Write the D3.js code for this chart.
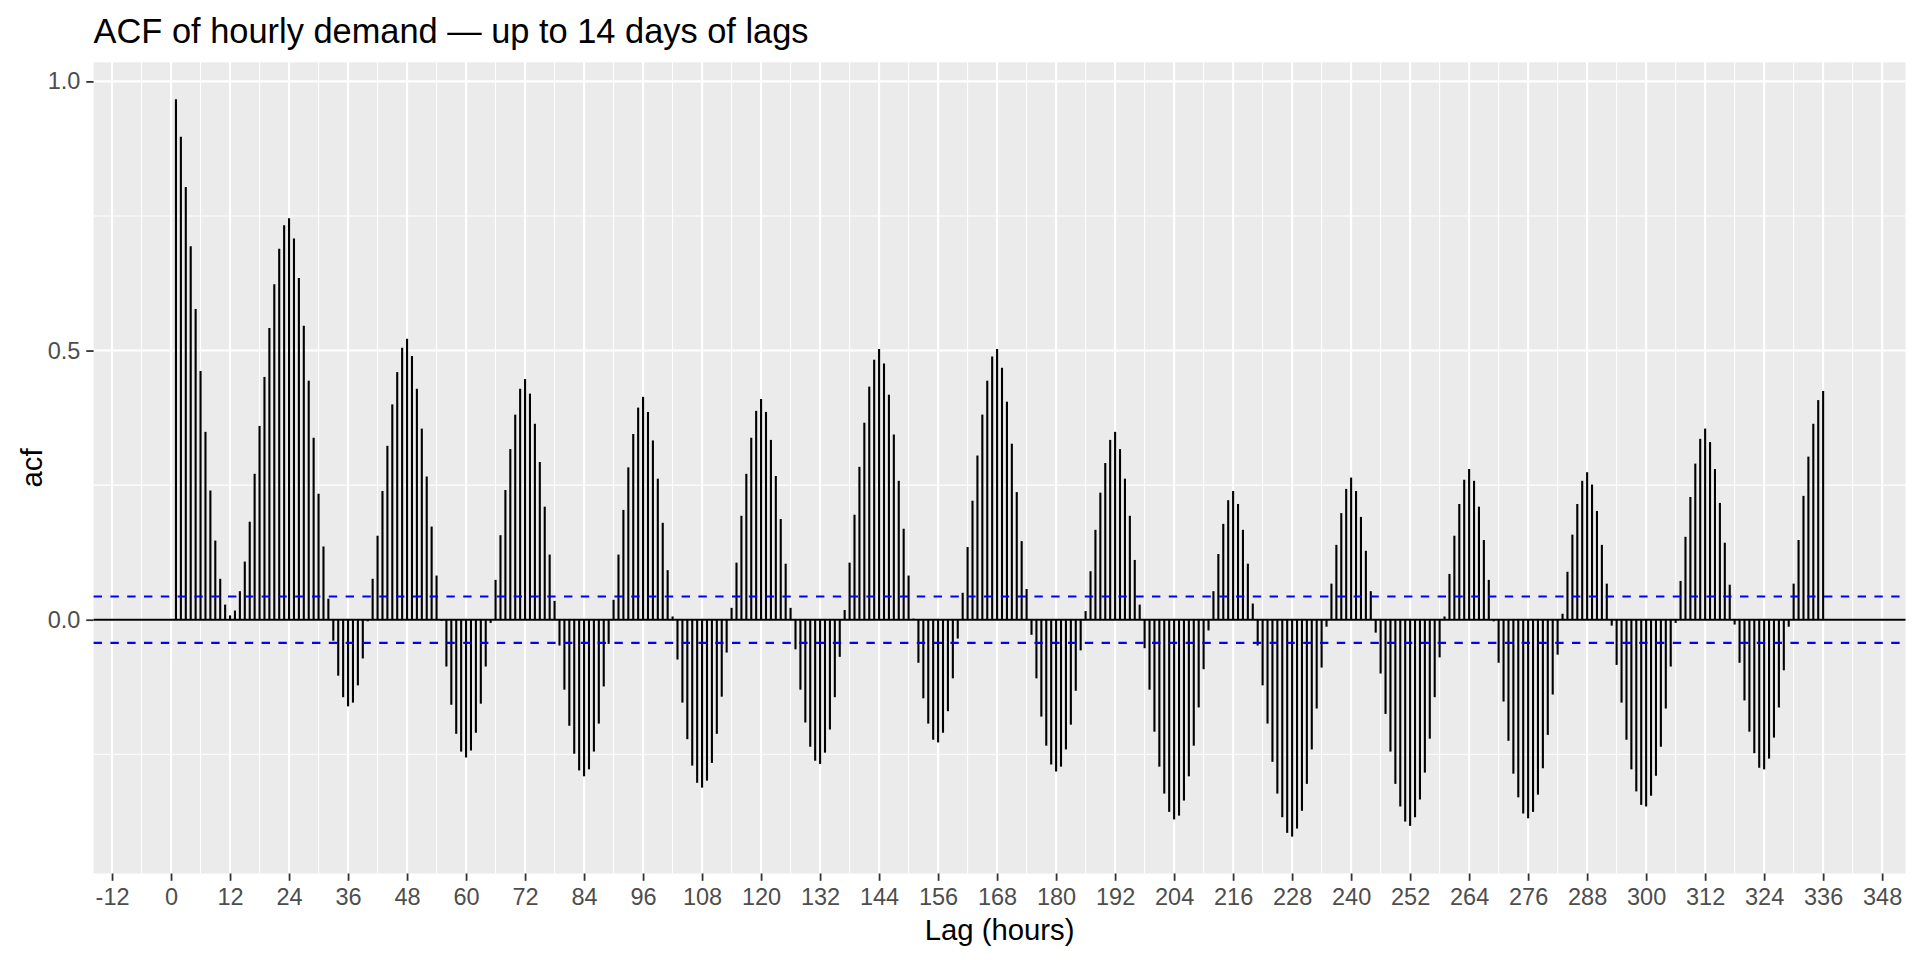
<!DOCTYPE html>
<html>
<head>
<meta charset="utf-8">
<script src="https://cdn.jsdelivr.net/npm/d3@7"></script>
<style>
  body { margin: 0; background: #fff; }
  text { font-family: "Liberation Sans", Arial, sans-serif; }
</style>
</head>
<body>
<div id="acf-chart"></div>
<script>
// acf values for lags 1..336
const acfValues = [
  0.967, 0.897, 0.804, 0.694, 0.577, 0.462, 0.349, 0.240, 0.147, 0.076,
  0.028, 0.008, 0.017, 0.053, 0.108, 0.182, 0.271, 0.360, 0.451, 0.542,
  0.623, 0.689, 0.733, 0.746, 0.708, 0.635, 0.546, 0.444, 0.338, 0.234,
  0.136, 0.039, -0.039,
  -0.104, -0.144, -0.161, -0.154, -0.122, -0.072, -0.003, 0.076, 0.156, 0.239,
  0.323, 0.400, 0.460, 0.505, 0.522, 0.490, 0.429, 0.355, 0.266, 0.173,
  0.082, -0.002, -0.087, -0.158, -0.212, -0.245, -0.256, -0.243, -0.210, -0.156,
  -0.087, -0.006, 0.074, 0.157,
  0.241, 0.317, 0.381, 0.429, 0.447, 0.420, 0.364, 0.293, 0.210, 0.121,
  0.035, -0.048, -0.130, -0.197, -0.249, -0.280, -0.291, -0.278, -0.245, -0.193,
  -0.124, -0.045, 0.037, 0.121, 0.204, 0.283, 0.345, 0.394, 0.414, 0.386,
  0.333, 0.262, 0.180, 0.092,
  0.006, -0.074, -0.154, -0.222, -0.271, -0.303, -0.312, -0.299, -0.266, -0.212,
  -0.143, -0.061, 0.022, 0.106, 0.193, 0.271, 0.338, 0.388, 0.410, 0.386,
  0.334, 0.267, 0.187, 0.104, 0.022, -0.055, -0.130, -0.191, -0.236, -0.262,
  -0.268, -0.247, -0.204, -0.144,
  -0.069, 0.018, 0.106, 0.195, 0.284, 0.366, 0.433, 0.483, 0.503, 0.476,
  0.418, 0.344, 0.258, 0.169, 0.082, 0.002, -0.080, -0.146, -0.193, -0.223,
  -0.228, -0.210, -0.170, -0.109, -0.035, 0.050, 0.135, 0.221, 0.305, 0.381,
  0.444, 0.489, 0.503, 0.468,
  0.405, 0.327, 0.237, 0.146, 0.057, -0.028, -0.109, -0.180, -0.234, -0.269,
  -0.282, -0.273, -0.241, -0.195, -0.132, -0.057, 0.016, 0.090, 0.167, 0.236,
  0.291, 0.334, 0.349, 0.317, 0.262, 0.193, 0.111, 0.028, -0.053, -0.130,
  -0.208, -0.273, -0.323, -0.357,
  -0.371, -0.364, -0.336, -0.291, -0.234, -0.163, -0.092, -0.020, 0.053, 0.122,
  0.178, 0.222, 0.239, 0.215, 0.167, 0.104, 0.030, -0.048, -0.122, -0.193,
  -0.264, -0.323, -0.367, -0.396, -0.403, -0.388, -0.355, -0.305, -0.241, -0.165,
  -0.089, -0.013, 0.067, 0.139,
  0.198, 0.243, 0.264, 0.239, 0.191, 0.128, 0.053, -0.024, -0.100, -0.175,
  -0.245, -0.305, -0.347, -0.375, -0.383, -0.367, -0.334, -0.284, -0.221, -0.144,
  -0.070, 0.006, 0.085, 0.156, 0.215, 0.260, 0.280, 0.258, 0.210, 0.148,
  0.074, -0.003, -0.080, -0.152,
  -0.225, -0.286, -0.330, -0.360, -0.369, -0.357, -0.325, -0.276, -0.214, -0.139,
  -0.065, 0.011, 0.089, 0.158, 0.215, 0.258, 0.274, 0.251, 0.202, 0.139,
  0.067, -0.011, -0.084, -0.154, -0.223, -0.278, -0.319, -0.344, -0.347, -0.327,
  -0.290, -0.236, -0.165, -0.087,
  -0.006, 0.072, 0.154, 0.228, 0.290, 0.336, 0.355, 0.330, 0.280, 0.217,
  0.143, 0.065, -0.009, -0.080, -0.150, -0.208, -0.248, -0.275, -0.278, -0.258,
  -0.219, -0.163, -0.094, -0.013, 0.067, 0.148, 0.230, 0.303, 0.364, 0.408,
  0.425
];
const lags = acfValues.map((v, i) => i + 1);

// confidence bound (+/-)
const ciBound = 0.043;

const xTicks = [-12, 0, 12, 24, 36, 48, 60, 72, 84, 96, 108, 120, 132, 144, 156, 168,
  180, 192, 204, 216, 228, 240, 252, 264, 276, 288, 300, 312, 324, 336, 348];
const xMinor = [-6, 6, 18, 30, 42, 54, 66, 78, 90, 102, 114, 126, 138, 150, 162, 174,
  186, 198, 210, 222, 234, 246, 258, 270, 282, 294, 306, 318, 330, 342];
const yTicks = [0, 0.5, 1.0];
const yMinor = [-0.25, 0.25, 0.75];

const title = "ACF of hourly demand \u2014 up to 14 days of lags";
const xTitle = "Lag (hours)";
const yTitle = "acf";

// dimensions
const W = 1920, H = 960;
const margin = { top: 62.3, right: 14.5, bottom: 86.5, left: 93.6 };
const lw = 2.1;

const svg = d3.select("#acf-chart")
  .append("svg")
    .attr("width", W)
    .attr("height", H);

// ggplot-like 5% expansion
function expand(ext) {
  const pad = (ext[1] - ext[0]) * 0.05;
  return [ext[0] - pad, ext[1] + pad];
}

const x = d3.scaleLinear()
  .domain(expand(d3.extent(lags)))
  .range([margin.left, W - margin.right]);

const y = d3.scaleLinear()
  .domain(expand(d3.extent(acfValues.concat([0]))))
  .range([H - margin.bottom, margin.top]);

// panel background
svg.append("rect")
  .attr("x", margin.left)
  .attr("y", margin.top)
  .attr("width", W - margin.left - margin.right)
  .attr("height", H - margin.top - margin.bottom)
  .attr("fill", "#EBEBEB");

const grid = svg.append("g");

// minor grid
grid.selectAll(".xminor").data(xMinor).enter().append("line")
  .attr("x1", d => x(d)).attr("x2", d => x(d))
  .attr("y1", margin.top).attr("y2", H - margin.bottom)
  .attr("stroke", "#fff").attr("stroke-width", lw / 2);
grid.selectAll(".yminor").data(yMinor).enter().append("line")
  .attr("x1", margin.left).attr("x2", W - margin.right)
  .attr("y1", d => y(d)).attr("y2", d => y(d))
  .attr("stroke", "#fff").attr("stroke-width", lw / 2);

// major grid
grid.selectAll(".xmajor").data(xTicks).enter().append("line")
  .attr("x1", d => x(d)).attr("x2", d => x(d))
  .attr("y1", margin.top).attr("y2", H - margin.bottom)
  .attr("stroke", "#fff").attr("stroke-width", lw);
grid.selectAll(".ymajor").data(yTicks).enter().append("line")
  .attr("x1", margin.left).attr("x2", W - margin.right)
  .attr("y1", d => y(d)).attr("y2", d => y(d))
  .attr("stroke", "#fff").attr("stroke-width", lw);

// zero line
svg.append("line")
  .attr("x1", margin.left).attr("x2", W - margin.right)
  .attr("y1", y(0)).attr("y2", y(0))
  .attr("stroke", "#000").attr("stroke-width", lw);

// acf segments
svg.append("g")
  .selectAll("line")
  .data(acfValues)
  .enter().append("line")
    .attr("x1", (d, i) => x(lags[i]))
    .attr("x2", (d, i) => x(lags[i]))
    .attr("y1", y(0))
    .attr("y2", d => y(d))
    .attr("stroke", "#000")
    .attr("stroke-width", lw);

// confidence bounds
svg.append("g")
  .selectAll("line")
  .data([ciBound, -ciBound])
  .enter().append("line")
    .attr("x1", margin.left).attr("x2", W - margin.right)
    .attr("y1", d => y(d)).attr("y2", d => y(d))
    .attr("stroke", "#0000FF")
    .attr("stroke-width", lw)
    .attr("stroke-dasharray", "8.4 8.4");

// axes (plain hyphen for negatives, like R)
const xAxis = svg.append("g")
  .attr("transform", "translate(0," + (H - margin.bottom) + ")")
  .call(d3.axisBottom(x).tickValues(xTicks).tickFormat(d => String(d)).tickSize(7.3).tickPadding(8));

const yAxis = svg.append("g")
  .attr("transform", "translate(" + margin.left + ",0)")
  .call(d3.axisLeft(y).tickValues(yTicks).tickFormat(d => d.toFixed(1)).tickSize(7.3).tickPadding(5.9));

[xAxis, yAxis].forEach(a => {
  a.select(".domain").remove();
  a.selectAll(".tick line").attr("stroke", "#333333").attr("stroke-width", 1.8);
  a.selectAll(".tick text")
    .attr("fill", "#4D4D4D")
    .style("font-size", "23.5px")
    .style("font-family", "'Liberation Sans', Arial, sans-serif");
});

// titles
svg.append("text")
  .attr("x", margin.left)
  .attr("y", 43)
  .attr("fill", "#000")
  .style("font-size", "34.4px")
  .text(title);

svg.append("text")
  .attr("x", (margin.left + W - margin.right) / 2)
  .attr("y", 940)
  .attr("text-anchor", "middle")
  .attr("fill", "#000")
  .style("font-size", "29.3px")
  .text(xTitle);

svg.append("text")
  .attr("transform", "translate(42," + ((margin.top + H - margin.bottom) / 2) + ") rotate(-90)")
  .attr("text-anchor", "middle")
  .attr("fill", "#000")
  .style("font-size", "29.3px")
  .text(yTitle);
</script>
</body>
</html>
